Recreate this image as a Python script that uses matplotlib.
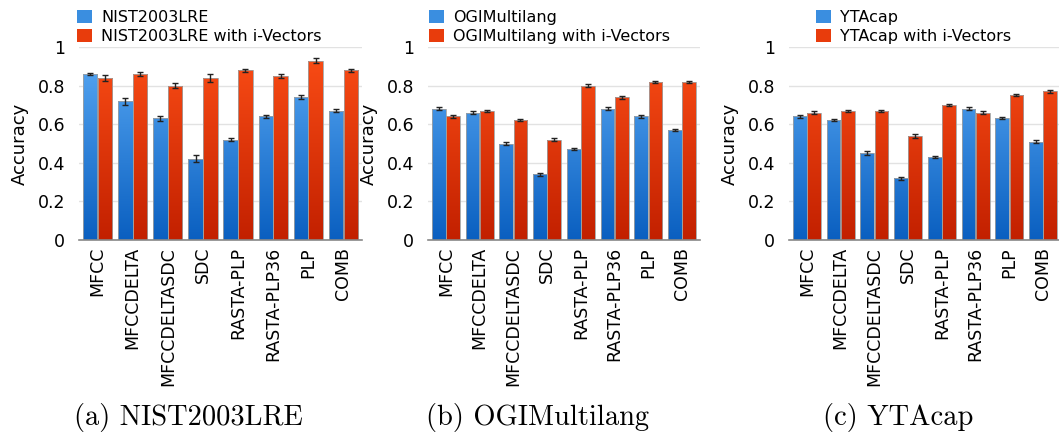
import numpy as np
import matplotlib
matplotlib.use("Agg")
import matplotlib.pyplot as plt
from matplotlib.colors import LinearSegmentedColormap

# ------------------------------------------------------------
# DATA
# ------------------------------------------------------------
features = ["MFCC", "MFCCDELTA", "MFCCDELTASDC", "SDC",
            "RASTA-PLP", "RASTA-PLP36", "PLP", "COMB"]

datasets = ["NIST2003LRE", "OGIMultilang", "YTAcap"]
captions = ["(a) NIST2003LRE", "(b) OGIMultilang", "(c) YTAcap"]

nist_base = [0.86, 0.72, 0.63, 0.42, 0.52, 0.64, 0.74, 0.67]
nist_base_err = [0.006, 0.018, 0.015, 0.018, 0.007, 0.008, 0.012, 0.008]
nist_ivec = [0.84, 0.86, 0.80, 0.84, 0.88, 0.85, 0.93, 0.88]
nist_ivec_err = [0.015, 0.010, 0.012, 0.020, 0.008, 0.010, 0.015, 0.008]

ogi_base = [0.68, 0.66, 0.50, 0.34, 0.47, 0.68, 0.64, 0.57]
ogi_base_err = [0.007, 0.007, 0.007, 0.006, 0.006, 0.008, 0.007, 0.007]
ogi_ivec = [0.64, 0.67, 0.62, 0.52, 0.80, 0.74, 0.82, 0.82]
ogi_ivec_err = [0.006, 0.006, 0.005, 0.006, 0.007, 0.007, 0.006, 0.005]

yta_base = [0.64, 0.62, 0.45, 0.32, 0.43, 0.68, 0.63, 0.51]
yta_base_err = [0.007, 0.006, 0.009, 0.008, 0.006, 0.007, 0.005, 0.007]
yta_ivec = [0.66, 0.67, 0.67, 0.54, 0.70, 0.66, 0.75, 0.77]
yta_ivec_err = [0.007, 0.005, 0.006, 0.009, 0.007, 0.007, 0.006, 0.006]

base_vals = [nist_base, ogi_base, yta_base]
base_errs = [nist_base_err, ogi_base_err, yta_base_err]
ivec_vals = [nist_ivec, ogi_ivec, yta_ivec]
ivec_errs = [nist_ivec_err, ogi_ivec_err, yta_ivec_err]

# ------------------------------------------------------------
# STYLE
# ------------------------------------------------------------
blue_cmap = LinearSegmentedColormap.from_list("b", ["#0a5fc0", "#5aaaf5"])
red_cmap = LinearSegmentedColormap.from_list("r", ["#c22000", "#fc4e16"])
grad = np.linspace(0, 1, 256).reshape(-1, 1)

W, H = 1059, 434
fig = plt.figure(figsize=(W / 100, H / 100), dpi=100)

# axes boxes in pixels: left, right
ax_px = [(79, 362), (428, 700), (789, 1061)]
leg_x = [80, 432, 819]
cap_x = [188, 537, 898]
top_px, bot_px = 47, 240


def gradient_bars(ax, bars, cmap):
    for b in bars:
        x0, w = b.get_x(), b.get_width()
        im = ax.imshow(grad, cmap=cmap, origin="lower", aspect="auto",
                       extent=(x0, x0 + w, 0, 1), zorder=2)
        im.set_clip_path(b)
        b.set_facecolor("none")


x = np.arange(len(features))
bw = 0.41

for i in range(3):
    l, r = ax_px[i]
    ax = fig.add_axes([l / W, 1 - bot_px / H, (r - l) / W, (bot_px - top_px) / H])

    b1 = ax.bar(x - 0.21, base_vals[i], bw, color="#3a8ee0",
                edgecolor="#a0a0a0", linewidth=0.6, zorder=3)
    b2 = ax.bar(x + 0.21, ivec_vals[i], bw, color="#e83c0c",
                edgecolor="#a0a0a0", linewidth=0.6, zorder=3)
    gradient_bars(ax, b1, blue_cmap)
    gradient_bars(ax, b2, red_cmap)

    ax.errorbar(x - 0.21, base_vals[i], yerr=base_errs[i], fmt="none",
                ecolor="#222222", elinewidth=1, capsize=2.5, capthick=1, zorder=4)
    ax.errorbar(x + 0.21, ivec_vals[i], yerr=ivec_errs[i], fmt="none",
                ecolor="#222222", elinewidth=1, capsize=2.5, capthick=1, zorder=4)

    ax.set_xlim(-0.53, 7.53)
    ax.set_ylim(0, 1.0)
    ax.set_yticks([0, 0.2, 0.4, 0.6, 0.8, 1])
    ax.set_yticklabels(["0", "0.2", "0.4", "0.6", "0.8", "1"])
    ax.set_xticks(x)
    ax.set_xticklabels(features, rotation=90, fontsize=12.5)
    ax.tick_params(axis="y", length=0, pad=10, labelsize=12.5)
    ax.tick_params(axis="x", length=0, pad=5)
    ax.grid(axis="y", color="#e2e2e2", linewidth=1, zorder=0)
    ax.set_axisbelow(True)
    for s in ["left", "right", "top"]:
        ax.spines[s].set_visible(False)
    ax.spines["bottom"].set_color("#888888")
    ax.spines["bottom"].set_linewidth(1.2)
    ax.spines["bottom"].set_zorder(5)
    ax.set_ylabel("Accuracy", fontsize=13)
    ax.yaxis.set_label_coords(-50 / (r - l), 0.5)

    handles = [plt.Rectangle((0, 0), 1, 1, facecolor="#3a8ee0"),
               plt.Rectangle((0, 0), 1, 1, facecolor="#e83c0c")]
    fig.legend(handles, [datasets[i], datasets[i] + " with i-Vectors"],
               loc="upper left", bbox_to_anchor=((leg_x[i] - 6) / W, 1 - 7 / H),
               frameon=False, fontsize=11.5, handlelength=0.9, handleheight=0.9,
               handletextpad=0.6, labelspacing=0.22, borderpad=0.2,
               borderaxespad=0)

    fig.text(cap_x[i] / W, 1 - 417 / H, captions[i], ha="center", va="center",
             fontsize=20.5, family="cmr10")

plt.savefig("out.png", dpi=100)
